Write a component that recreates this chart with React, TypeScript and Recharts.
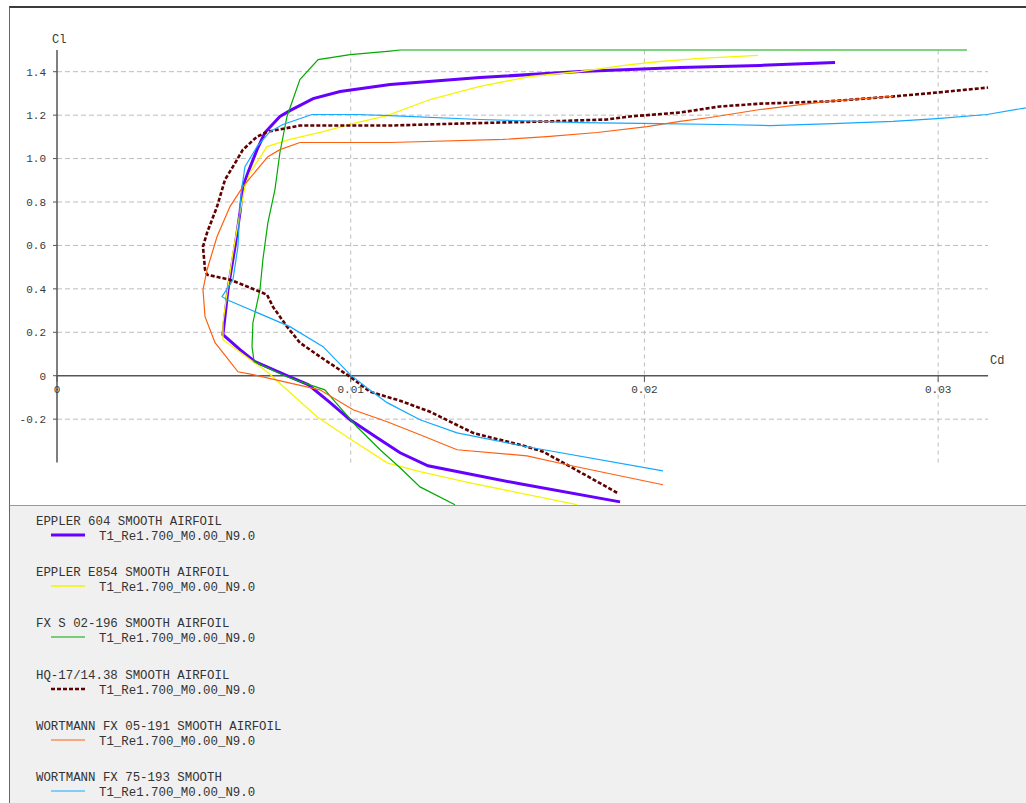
import React from 'react'
import { LineChart, Line, XAxis, YAxis, ReferenceLine, ReferenceDot } from 'recharts'

// polars, [Cd, Cl], traced from lowest to highest alpha
const eppler604 = [
  [0.01917, -0.581], [0.01576, -0.498], [0.01263, -0.415], [0.01168, -0.355], [0.0109, -0.286],
  [0.00998, -0.203], [0.0093, -0.124], [0.00855, -0.041], [0.00783, 0], [0.00674, 0.065],
  [0.00623, 0.12], [0.00565, 0.189], [0.00582, 0.396], [0.00606, 0.594], [0.00623, 0.751],
  [0.00633, 0.871], [0.0065, 0.935], [0.00681, 1.041], [0.00708, 1.12], [0.00759, 1.194],
  [0.00793, 1.221], [0.00872, 1.276], [0.00964, 1.309], [0.01134, 1.341], [0.0144, 1.373],
  [0.01781, 1.401], [0.02121, 1.419], [0.02394, 1.429], [0.02649, 1.442],
]
const epplerE854 = [
  [0.0177, -0.594], [0.01406, -0.493], [0.01236, -0.442], [0.01124, -0.401], [0.00987, -0.281],
  [0.00885, -0.189], [0.00783, -0.065], [0.00715, 0.018], [0.0064, 0.092], [0.00565, 0.166],
  [0.00565, 0.244], [0.00579, 0.382], [0.00599, 0.567], [0.00623, 0.751], [0.0064, 0.871],
  [0.00657, 0.935], [0.00715, 1.055], [0.00793, 1.088], [0.00906, 1.124], [0.01021, 1.166],
  [0.01124, 1.198], [0.0127, 1.272], [0.0144, 1.332], [0.0161, 1.378], [0.01781, 1.401],
  [0.01951, 1.433], [0.02053, 1.447], [0.02189, 1.461], [0.02387, 1.475],
]
const fxS02196 = [
  [0.01355, -0.594], [0.01236, -0.512], [0.01168, -0.424], [0.011, -0.341], [0.01021, -0.235],
  [0.00947, -0.12], [0.00912, -0.065], [0.00838, -0.032], [0.00783, -0.005], [0.00671, 0.065],
  [0.00664, 0.134], [0.00667, 0.244], [0.00691, 0.396], [0.00701, 0.535], [0.00718, 0.705],
  [0.00742, 0.857], [0.00759, 1.028], [0.00783, 1.194], [0.00827, 1.364], [0.00889, 1.456],
  [0.00998, 1.479], [0.01134, 1.495], [0.01168, 1.5], [0.02121, 1.5], [0.03098, 1.5],
]
const hq1714 = [
  [0.01907, -0.539], [0.01736, -0.41], [0.01655, -0.35], [0.016, -0.327], [0.01416, -0.263],
  [0.0127, -0.166], [0.01168, -0.115], [0.01066, -0.074], [0.00998, -0.005], [0.00895, 0.088],
  [0.00827, 0.152], [0.00783, 0.226], [0.00735, 0.318], [0.00715, 0.373], [0.00691, 0.387],
  [0.00589, 0.442], [0.00511, 0.465], [0.00504, 0.488], [0.00497, 0.594], [0.00511, 0.659],
  [0.00545, 0.779], [0.00572, 0.903], [0.00599, 0.963], [0.00633, 1.041], [0.00681, 1.101],
  [0.00718, 1.124], [0.00827, 1.152], [0.01134, 1.152], [0.01362, 1.161], [0.01668, 1.171],
  [0.01873, 1.18], [0.01951, 1.194], [0.02121, 1.212], [0.02257, 1.24], [0.02394, 1.253],
  [0.02622, 1.263], [0.02846, 1.286], [0.02996, 1.304], [0.0317, 1.327],
]
const fx05191 = [
  [0.02063, -0.502], [0.01736, -0.41], [0.016, -0.369], [0.01362, -0.341], [0.01236, -0.272],
  [0.01124, -0.212], [0.01008, -0.157], [0.00895, -0.065], [0.00667, 0.005], [0.00616, 0.018],
  [0.00565, 0.106], [0.00538, 0.152], [0.00504, 0.272], [0.00497, 0.396], [0.00511, 0.488],
  [0.00545, 0.641], [0.00589, 0.779], [0.00633, 0.871], [0.00718, 1.009], [0.00759, 1.041],
  [0.00827, 1.074], [0.01134, 1.074], [0.01519, 1.088], [0.01668, 1.101], [0.01839, 1.12],
  [0.02009, 1.147], [0.02121, 1.171], [0.02223, 1.189], [0.02394, 1.226], [0.02622, 1.263],
  [0.02846, 1.286],
]
const fx75193 = [
  [0.02063, -0.438], [0.016, -0.327], [0.01362, -0.263], [0.01236, -0.203], [0.01124, -0.124],
  [0.01055, -0.055], [0.00998, 0.005], [0.00906, 0.134], [0.00793, 0.226], [0.00579, 0.35],
  [0.00562, 0.364], [0.00599, 0.442], [0.00616, 0.594], [0.00623, 0.779], [0.0063, 0.871],
  [0.0064, 0.963], [0.00681, 1.055], [0.00725, 1.124], [0.00769, 1.157], [0.00868, 1.203],
  [0.01021, 1.203], [0.01134, 1.198], [0.0144, 1.18], [0.01781, 1.166], [0.02053, 1.161],
  [0.02257, 1.157], [0.02428, 1.152], [0.02642, 1.161], [0.02846, 1.171], [0.02996, 1.184],
  [0.03166, 1.203], [0.03364, 1.249],
]

const xTicks = [0, 0.01, 0.02, 0.03]
const xTickLabels = ['0', '0.01', '0.02', '0.03']
const yTicks = [-0.2, 0, 0.2, 0.4, 0.6, 0.8, 1.0, 1.2, 1.4]
const X_END = 0.0317
const Y_BOTTOM = -0.4
const Y_TOP = 1.5

const SUBTITLE = 'T1_Re1.700_M0.00_N9.0'

const series = [
  { name: 'EPPLER 604 SMOOTH AIRFOIL', data: eppler604, color: '#6600ff', width: 3 },
  { name: 'EPPLER E854 SMOOTH AIRFOIL', data: epplerE854, color: '#f5f500', width: 1.3 },
  { name: 'FX S 02-196 SMOOTH AIRFOIL', data: fxS02196, color: '#00aa00', width: 1.2 },
  { name: 'HQ-17/14.38 SMOOTH AIRFOIL', data: hq1714, color: '#600000', width: 2.6, dash: '4 2' },
  { name: 'WORTMANN FX 05-191 SMOOTH AIRFOIL', data: fx05191, color: '#ff6010', width: 1.2 },
  { name: 'WORTMANN FX 75-193 SMOOTH', data: fx75193, color: '#14a8ff', width: 1.2 },
]

const FONT = '"Liberation Mono", "DejaVu Sans Mono", monospace'
const TEXT = '#3a3a3a'
const AXIS = '#555'
const GRID = '#bdbdbd'

const toPoints = (arr: number[][]) => arr.map(([cd, cl]) => ({ cd, cl }))

export default function App() {
  return (
    <div style={{ position: 'relative', width: 1026, height: 803, overflow: 'hidden', background: '#fff', fontFamily: FONT }}>
      <style>{'html,body{margin:0;padding:0;overflow:hidden}'}</style>
      <div style={{ position: 'absolute', left: 9, top: 6, width: 1030, height: 500, boxSizing: 'border-box', background: '#fff', borderTop: '2px solid #3c3c3c', borderLeft: '1px solid #666', borderBottom: '1px solid #999' }} />
      <div style={{ position: 'absolute', left: 9, top: 506, width: 1030, height: 297, background: '#f0f0f0', borderLeft: '1px solid #666' }} />

      <div style={{ position: 'absolute', left: 0, top: 0 }}>
        <LineChart width={1095} height={506} margin={{ top: 50, right: 10, bottom: 0, left: 0 }}>
          <XAxis type="number" dataKey="cd" domain={[0, 0.035]} hide />
          <YAxis
            type="number"
            dataKey="cl"
            domain={[-0.6, 1.5]}
            ticks={yTicks}
            interval={0}
            width={57}
            axisLine={false}
            tickLine={{ stroke: AXIS }}
            tickSize={4}
            tickMargin={7}
            tick={{ fill: TEXT, fontSize: 11, fontFamily: FONT }}
            tickFormatter={(v: number) => (v === 0 ? '0' : v.toFixed(1))}
          />

          {yTicks.filter((t) => t !== 0).map((t) => (
            <ReferenceLine key={'h' + t} segment={[{ x: 0, y: t }, { x: X_END, y: t }]} stroke={GRID} strokeDasharray="5 3" />
          ))}
          {xTicks.filter((t) => t !== 0).map((t) => (
            <ReferenceLine key={'v' + t} segment={[{ x: t, y: Y_BOTTOM }, { x: t, y: Y_TOP }]} stroke={GRID} strokeDasharray="4 4" />
          ))}

          <ReferenceLine segment={[{ x: 0, y: 0 }, { x: X_END, y: 0 }]} stroke={AXIS} strokeWidth={1.5} />
          <ReferenceLine segment={[{ x: 0, y: Y_BOTTOM }, { x: 0, y: Y_TOP }]} stroke={AXIS} strokeWidth={1.5} />
          {xTicks.map((t) => (
            <ReferenceLine key={'t' + t} segment={[{ x: t, y: 0 }, { x: t, y: -0.028 }]} stroke={AXIS} />
          ))}
          {xTicks.map((t, i) => (
            <ReferenceDot
              key={'l' + t}
              x={t}
              y={0}
              r={0}
              stroke="none"
              fill="none"
              label={{ value: xTickLabels[i], position: 'bottom', offset: 9, fill: TEXT, fontSize: 11, fontFamily: FONT }}
            />
          ))}

          {series.map((s) => (
            <Line
              key={s.name}
              data={toPoints(s.data)}
              dataKey="cl"
              type="linear"
              stroke={s.color}
              strokeWidth={s.width}
              strokeDasharray={s.dash}
              dot={false}
              activeDot={false}
              isAnimationActive={false}
            />
          ))}
        </LineChart>
      </div>

      <span style={{ position: 'absolute', left: 52, top: 33, fontSize: 12, color: TEXT }}>Cl</span>
      <span style={{ position: 'absolute', left: 990, top: 354, fontSize: 12, color: TEXT }}>Cd</span>

      {series.map((s, i) => {
        const top = 515 + i * 51.2
        return (
          <div key={s.name}>
            <div style={{ position: 'absolute', left: 36, top, fontSize: 12.4, lineHeight: '14px', color: '#333', whiteSpace: 'pre' }}>{s.name}</div>
            <svg style={{ position: 'absolute', left: 51, top: top + 17 }} width={34} height={6}>
              <line x1={0} x2={34} y1={3} y2={3} stroke={s.color} strokeWidth={s.width} strokeDasharray={s.dash} />
            </svg>
            <div style={{ position: 'absolute', left: 99, top: top + 15, fontSize: 12.4, lineHeight: '14px', color: '#333', whiteSpace: 'pre' }}>{SUBTITLE}</div>
          </div>
        )
      })}
    </div>
  )
}
